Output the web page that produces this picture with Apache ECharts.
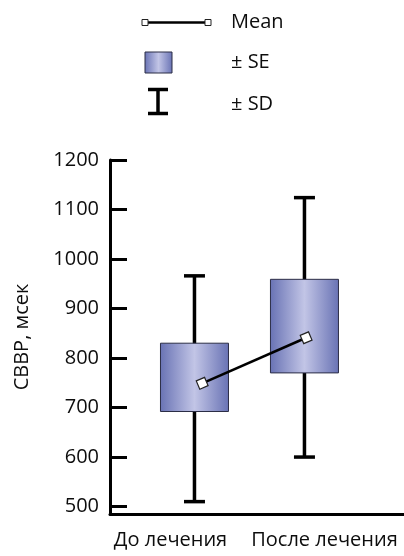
<!DOCTYPE html>
<html>
<head>
<meta charset="utf-8">
<script src="https://cdn.jsdelivr.net/npm/echarts@6/dist/echarts.min.js"></script>
<style>html,body{margin:0;padding:0;background:#fff;}#c{width:404px;height:556px;}</style>
</head>
<body>
<div id="c"></div>
<script>
var categories = ['До лечения', 'После лечения'];
var catX = [0, 1];
var meanX = [0.07, 1.015];
var means = [749, 841];
var seLow = [692, 770];
var seHigh = [830, 959];
var sdLow = [510, 600];
var sdHigh = [966, 1124];
var yTicks = [500, 600, 700, 800, 900, 1000, 1100, 1200];
var legendLabels = ['Mean', '± SE', '± SD'];
var yTitle = 'СВВР, мсек';

var FONT = '"Open Sans", sans-serif';
var FS = 20;
var TXT = '#0d0d0d';
var boxGrad = function () {
  return new echarts.graphic.LinearGradient(0, 0, 1, 0, [
    {offset: 0, color: '#6872b4'},
    {offset: 0.5, color: '#c2c5e6'},
    {offset: 1, color: '#6872b4'}
  ]);
};

var chart = echarts.init(document.getElementById('c'), null, {renderer: 'canvas'});

var sdData = catX.map(function (x, i) { return [x, sdLow[i], sdHigh[i]]; });
var seData = catX.map(function (x, i) { return [x, seLow[i], seHigh[i]]; });
var meanData = meanX.map(function (x, i) { return [x, means[i]]; });

var option = {
  animation: false,
  backgroundColor: '#fff',
  grid: {left: 110, right: 0, top: 160, bottom: 42, containLabel: false},
  xAxis: {
    type: 'value', min: -0.768, max: 1.905,
    splitLine: {show: false},
    axisLine: {show: true, onZero: false, lineStyle: {color: '#000', width: 3}},
    axisTick: {show: false},
    axisLabel: {
      customValues: [-0.218, 1.182],
      margin: 16,
      fontFamily: FONT, fontSize: FS, color: TXT,
      formatter: function (v) { return v < 0.5 ? categories[0] : categories[1]; }
    }
  },
  yAxis: {
    type: 'value', min: 485, max: 1200,
    name: yTitle, nameLocation: 'middle', nameGap: 78,
    nameTextStyle: {fontFamily: FONT, fontSize: FS, color: TXT},
    splitLine: {show: false},
    axisLine: {show: true, onZero: false, lineStyle: {color: '#000', width: 3}},
    axisTick: {show: true, inside: true, length: 17, customValues: yTicks, lineStyle: {color: '#000', width: 3}},
    axisLabel: {customValues: yTicks, margin: 11, fontFamily: FONT, fontSize: FS, color: TXT,
      formatter: function (v) { return String(v); }}
  },
  series: [
    {
      type: 'custom', name: 'SD', data: sdData, z: 2,
      renderItem: function (params, api) {
        var x = api.value(0);
        var lo = api.coord([x, api.value(1)]);
        var hi = api.coord([x, api.value(2)]);
        var half = 10.5;
        var st = {stroke: '#000', lineWidth: 3.5};
        return {type: 'group', children: [
          {type: 'line', shape: {x1: lo[0], y1: lo[1], x2: hi[0], y2: hi[1]}, style: st},
          {type: 'line', shape: {x1: lo[0] - half, y1: lo[1], x2: lo[0] + half, y2: lo[1]}, style: st},
          {type: 'line', shape: {x1: hi[0] - half, y1: hi[1], x2: hi[0] + half, y2: hi[1]}, style: st}
        ]};
      }
    },
    {
      type: 'custom', name: 'SE', data: seData, z: 3,
      renderItem: function (params, api) {
        var x = api.value(0);
        var lo = api.coord([x, api.value(1)]);
        var hi = api.coord([x, api.value(2)]);
        var w = 68;
        return {type: 'rect',
          shape: {x: lo[0] - w / 2, y: hi[1], width: w, height: lo[1] - hi[1]},
          style: {fill: boxGrad(), stroke: '#2b2d45', lineWidth: 1}};
      }
    },
    {
      type: 'line', name: 'Mean', data: meanData, z: 4,
      lineStyle: {color: '#000', width: 2.5},
      symbol: 'rect', symbolSize: 9, symbolRotate: 23,
      itemStyle: {color: '#fff', borderColor: '#222', borderWidth: 1.2}
    }
  ],
  graphic: [
    {type: 'line', shape: {x1: 146, y1: 22.5, x2: 208, y2: 22.5}, style: {stroke: '#000', lineWidth: 2.5}, z: 10},
    {type: 'rect', shape: {x: 142, y: 19.5, width: 6, height: 6}, style: {fill: '#fff', stroke: '#222', lineWidth: 1}, z: 11},
    {type: 'rect', shape: {x: 205, y: 19.5, width: 6, height: 6}, style: {fill: '#fff', stroke: '#222', lineWidth: 1}, z: 11},
    {type: 'text', x: 231, y: 22, style: {text: legendLabels[0], font: FS + 'px ' + FONT, fill: TXT, verticalAlign: 'middle'}},
    {type: 'rect', shape: {x: 145, y: 52, width: 27, height: 21}, style: {fill: boxGrad(), stroke: '#2b2d45', lineWidth: 1}},
    {type: 'text', x: 231, y: 62.5, style: {text: legendLabels[1], font: FS + 'px ' + FONT, fill: TXT, verticalAlign: 'middle'}},
    {type: 'line', shape: {x1: 158, y1: 89, x2: 158, y2: 114}, style: {stroke: '#000', lineWidth: 3.5}},
    {type: 'line', shape: {x1: 148, y1: 89.5, x2: 168, y2: 89.5}, style: {stroke: '#000', lineWidth: 3.5}},
    {type: 'line', shape: {x1: 148, y1: 113.5, x2: 168, y2: 113.5}, style: {stroke: '#000', lineWidth: 3.5}},
    {type: 'text', x: 231, y: 104, style: {text: legendLabels[2], font: FS + 'px ' + FONT, fill: TXT, verticalAlign: 'middle'}}
  ]
};
chart.setOption(option);
</script>
</body>
</html>
